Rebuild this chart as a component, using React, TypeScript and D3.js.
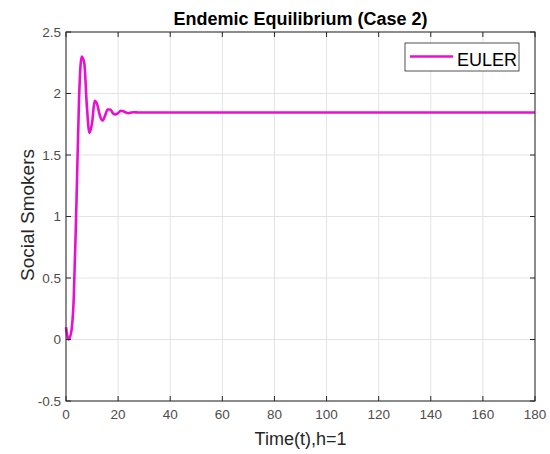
import React from "react";
import * as d3 from "d3";

const times = [0, 1, 2, 3, 4, 5, 6, 7, 8, 9, 10, 11, 12, 13, 14, 15, 16, 17, 18, 19, 20, 21, 22, 23, 24, 25, 26, 28, 30, 40, 60, 100, 140, 180];
const smokers = [0.1, 0.0, 0.06, 0.35, 1.1, 1.95, 2.3, 2.25, 1.9, 1.68, 1.76, 1.94, 1.91, 1.82, 1.78, 1.82, 1.87, 1.87, 1.84, 1.83, 1.84, 1.86, 1.855, 1.845, 1.84, 1.845, 1.848, 1.845, 1.845, 1.845, 1.845, 1.845, 1.845, 1.845];
const xTicks = [0, 20, 40, 60, 80, 100, 120, 140, 160, 180];
const yTicks = [-0.5, 0, 0.5, 1, 1.5, 2, 2.5];
const title = "Endemic Equilibrium (Case 2)";
const xLabel = "Time(t),h=1";
const yLabel = "Social Smokers";
const seriesName = "EULER";

export default function App() {
  const W = 550, H = 454;
  const L = 66, R = 535, T = 32, B = 401;
  const x = d3.scaleLinear().domain([0, 180]).range([L, R]);
  const y = d3.scaleLinear().domain([-0.5, 2.5]).range([B, T]);
  const line = d3.line<number>().x((_, i) => x(times[i])).y((d) => y(d)).curve(d3.curveMonotoneX);
  const font = "'Liberation Sans', Arial, sans-serif";
  const axisColor = "#262626";
  return (
    <svg width={W} height={H} style={{ position: "absolute", left: 0, top: 0, background: "#fff" }} fontFamily={font}>
      <rect x={0} y={0} width={W} height={H} fill="#fff" />
      {xTicks.map((t) => (
        <line key={"gx" + t} x1={x(t)} x2={x(t)} y1={T} y2={B} stroke="#e3e3e3" strokeWidth={1} />
      ))}
      {yTicks.map((t) => (
        <line key={"gy" + t} x1={L} x2={R} y1={y(t)} y2={y(t)} stroke="#e3e3e3" strokeWidth={1} />
      ))}
      <path d={line(smokers) || ""} fill="none" stroke="#e810d0" strokeWidth={2.6} strokeLinejoin="round" />
      <rect x={L} y={T} width={R - L} height={B - T} fill="none" stroke={axisColor} strokeWidth={1} />
      {xTicks.map((t) => (
        <g key={"tx" + t}>
          <line x1={x(t)} x2={x(t)} y1={B} y2={B - 5} stroke={axisColor} />
          <line x1={x(t)} x2={x(t)} y1={T} y2={T + 5} stroke={axisColor} />
          <text x={x(t)} y={B + 18} textAnchor="middle" fontSize={13.5} fill="#4d4d4d">{t}</text>
        </g>
      ))}
      {yTicks.map((t) => (
        <g key={"ty" + t}>
          <line x1={L} x2={L + 5} y1={y(t)} y2={y(t)} stroke={axisColor} />
          <line x1={R} x2={R - 5} y1={y(t)} y2={y(t)} stroke={axisColor} />
          <text x={L - 5} y={y(t) + 4.5} textAnchor="end" fontSize={13.5} fill="#4d4d4d">{t}</text>
        </g>
      ))}
      <text x={(L + R) / 2} y={25} textAnchor="middle" fontSize={18} fontWeight="bold" fill="#000">{title}</text>
      <text x={(L + R) / 2} y={445} textAnchor="middle" fontSize={18} fill="#262626">{xLabel}</text>
      <text transform={`translate(34,215) rotate(-90)`} textAnchor="middle" fontSize={19} fill="#262626">{yLabel}</text>
      <g>
        <rect x={405} y={43} width={114} height={28} fill="#fff" stroke="#262626" strokeWidth={0.8} />
        <line x1={410} x2={453} y1={56.5} y2={56.5} stroke="#e810d0" strokeWidth={2.6} />
        <text x={457} y={66} fontSize={18} fill="#000">{seriesName}</text>
      </g>
    </svg>
  );
}
